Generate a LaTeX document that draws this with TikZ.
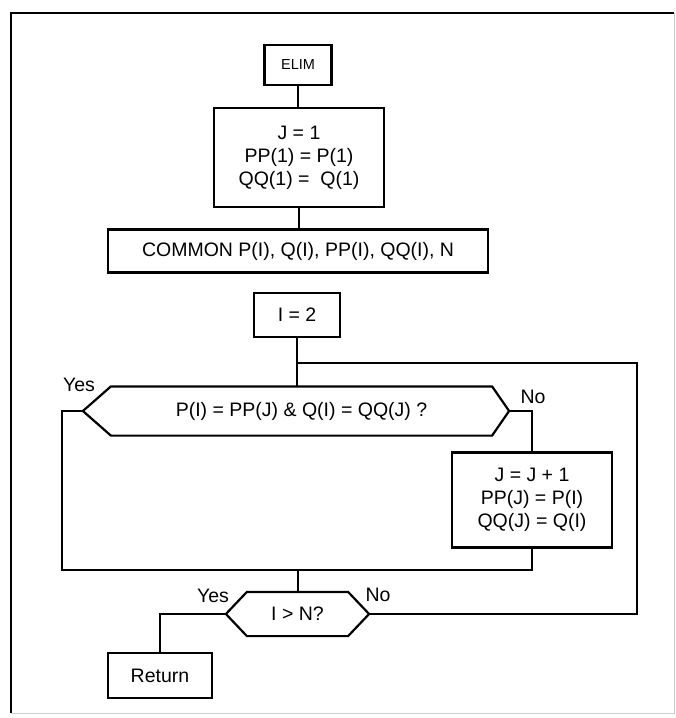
\documentclass[tikz,border=0pt]{standalone}
\usepackage{fontspec}
\setmainfont{Liberation Sans}
\usepackage{tikz}

\begin{document}
\begin{tikzpicture}[x=1pt,y=-1pt,line width=2.2pt,
  font=\fontsize{19.5}{23}\selectfont,
  box/.style={draw,rectangle,align=center,inner sep=0pt},
  core/.style={rectangle,align=center,inner sep=0pt},
  lab/.style={inner sep=0pt}]
\useasboundingbox (0,0) rectangle (676,718);
\fill[white] (0,0) rectangle (676,718);
\draw[line width=1.8pt] (674,13)--(11,13)--(11,713);
\draw[black!20,line width=.8pt] (11,713)--(674,713)--(674,13);
\node[box,minimum width=67,minimum height=40,font=\fontsize{14.5}{16}\selectfont] (elim) at (298,65) {ELIM};
\node[box,minimum width=170,minimum height=99] (init) at (299,157.5) {J = 1\\PP(1) = P(1)\\QQ(1) =\ \ Q(1)};
\node[box,minimum width=380,minimum height=43] (common) at (298,251) {COMMON P(I), Q(I), PP(I), QQ(I), N};
\node[box,minimum width=86,minimum height=44] (start) at (297,315) {I = 2};
\node[core,minimum width=379,minimum height=47] (test) at (301.5,411) {P(I) = PP(J) \& Q(I) = QQ(J) ?};
\node[box,minimum width=160,minimum height=95] (incr) at (532,500) {J = J + 1\\PP(J) = P(I)\\QQ(J) = Q(I)};
\node[core,minimum width=99,minimum height=42] (check) at (297.5,614) {I > N?};
\node[box,minimum width=104,minimum height=45] (ret) at (160,675.5) {Return};
\node[lab] (yes1) at (79,385) {Yes};
\node[lab] (no1) at (533,397) {No};
\node[lab] (yes2) at (213,596) {Yes};
\node[lab] (no2) at (378,595) {No};
\coordinate (testL) at ([xshift=-28pt]test.west);
\coordinate (testR) at ([xshift=17pt]test.east);
\coordinate (checkL) at ([xshift=-21pt]check.west);
\coordinate (checkR) at ([xshift=21pt]check.east);
\coordinate (jn) at (298,363);
\coordinate (loop) at (637,363);
\coordinate (back) at (62,570);
\coordinate (mrg) at (298,570);
\draw (test.north west)--(testL)--(test.south west)--(test.south east)--(testR)--(test.north east)--cycle;
\draw (check.north west)--(checkL)--(check.south west)--(check.south east)--(checkR)--(check.north east)--cycle;
\draw (elim.south)--(elim.south |- init.north);
\draw (init.south)--(init.south |- common.north);
\draw (start.south)--(start.south |- test.north);
\draw (jn)--(loop) |- (checkR);
\draw (testR) -| (incr.north);
\draw (testL) -| (back)--(mrg);
\draw (incr.south) |- (mrg);
\draw (mrg)--(mrg |- check.north);
\draw (checkL) -| (ret.north);
\end{tikzpicture}
\end{document}
